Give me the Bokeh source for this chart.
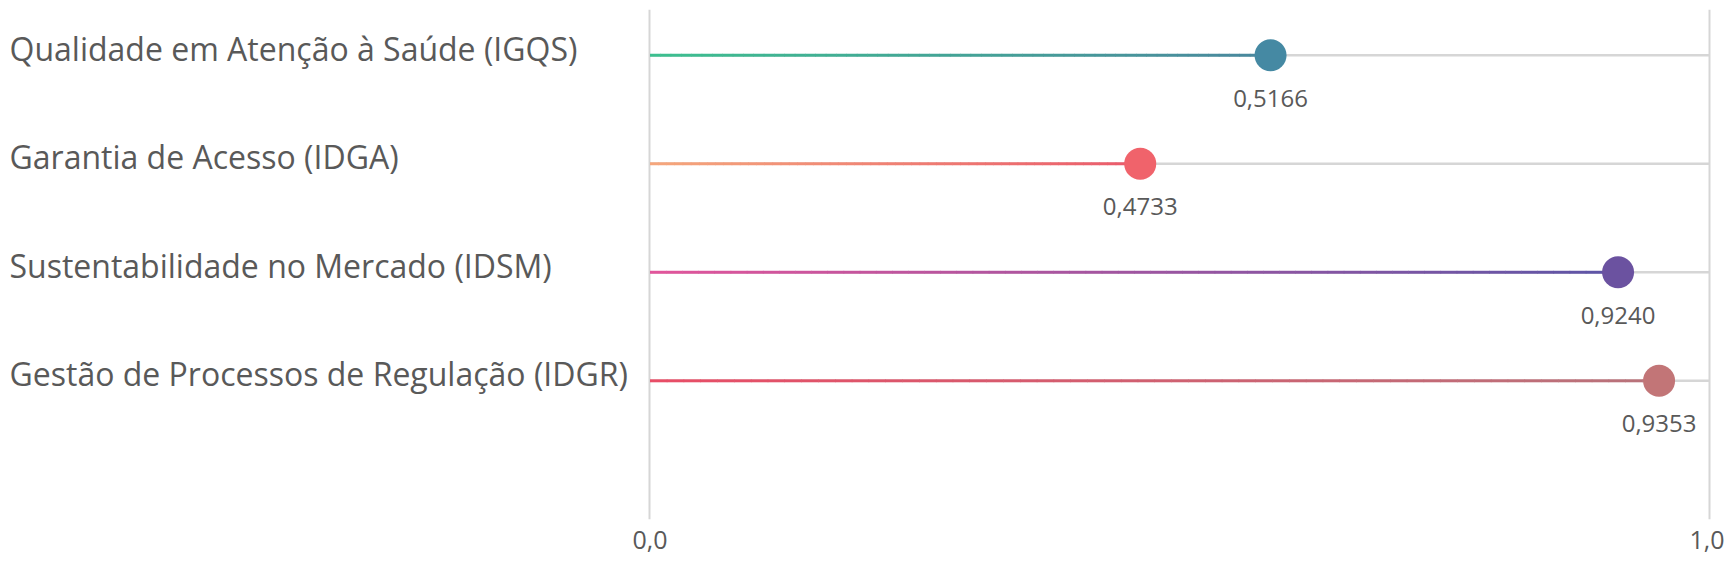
from bokeh.plotting import figure
from bokeh.models import ColumnDataSource, Range1d, FixedTicker
from bokeh.core.properties import value
from bokeh.embed import file_html
from bokeh.resources import INLINE

# ---- data ----
categories = [
    "Qualidade em Atenção à Saúde (IGQS)",
    "Garantia de Acesso (IDGA)",
    "Sustentabilidade no Mercado (IDSM)",
    "Gestão de Processos de Regulação (IDGR)",
]
marker_pos = [0.5857, 0.4627, 0.9137, 0.9524]      # where the dots sit on the 0..1 axis
value_labels = ["0,5166", "0,4733", "0,9240", "0,9353"]
tick_values = [0, 1]
tick_labels = ["0,0", "1,0"]

# styling
grad_start = ["#3dbf8f", "#f5a77c", "#e2559b", "#e84d66"]
grad_end = ["#4a879e", "#ea5a6b", "#5c55a6", "#b8737b"]
dot_colors = ["#4589a3", "#f0636b", "#6b52a0", "#c27577"]
TEXT = "#595959"
GRID = "#d6d6d6"
FONT = "Open Sans"

rows = list(range(len(categories)))

p = figure(frame_width=1716, frame_height=510, output_backend="svg", toolbar_location=None,
           x_range=Range1d(-0.60547, 1.01416), y_range=Range1d(4.278, -0.4211),
           min_border_left=8, min_border_right=0, min_border_top=9, min_border_bottom=44)
p.outline_line_color = None
p.background_fill_color = "white"
p.border_fill_color = "white"
p.yaxis.visible = False
p.ygrid.visible = False

xa = p.xaxis[0]
xa.ticker = FixedTicker(ticks=tick_values)
xa.major_label_overrides = {t: l for t, l in zip(tick_values, tick_labels)}
xa.axis_line_color = None
xa.major_tick_line_color = None
xa.minor_tick_line_color = None
xa.major_tick_out = 0
xa.major_label_standoff = 11
xa.major_label_text_font = FONT
xa.major_label_text_font_size = "25px"
xa.major_label_text_color = TEXT

p.xgrid.ticker = FixedTicker(ticks=tick_values)
p.xgrid.grid_line_color = GRID
p.xgrid.grid_line_width = 2

# gray track from 0 to 1
p.segment(x0=[tick_values[0]] * len(rows), x1=[tick_values[1]] * len(rows), y0=rows, y1=rows,
          line_color=GRID, line_width=2.5)

# gradient stems (styling: stem split into short pieces, colours blended)
def hex2rgb(h):
    h = h.lstrip("#")
    return tuple(int(h[i:i + 2], 16) for i in (0, 2, 4))

N = 60
sx0, sx1, sy, sc = [], [], [], []
for r, v in zip(rows, marker_pos):
    a, b = hex2rgb(grad_start[r]), hex2rgb(grad_end[r])
    for i in range(N):
        t = (i + 0.5) / N
        c = tuple(round(a[k] + (b[k] - a[k]) * t) for k in range(3))
        sx0.append(v * i / N)
        sx1.append(v * (i + 1) / N + (0.0005 if i < N - 1 else 0))
        sy.append(r)
        sc.append("#%02x%02x%02x" % c)
p.segment(x0="x0", x1="x1", y0="y", y1="y", line_color="c", line_width=3, line_cap="butt",
          source=ColumnDataSource(dict(x0=sx0, x1=sx1, y=sy, c=sc)))

src = ColumnDataSource(dict(x=marker_pos, y=rows, c=dot_colors, lab=value_labels,
                            cat=categories, lx=[p.x_range.start] * len(rows)))
p.scatter(x="x", y="y", size=32, fill_color="c", line_color=None, source=src)

p.text(x="x", y="y", text="lab", source=src, text_align="center", text_baseline="alphabetic",
       y_offset=43, text_font=value(FONT), text_font_size="24px", text_color=TEXT)

p.text(x="lx", y="y", text="cat", source=src, text_align="left", text_baseline="alphabetic",
       x_offset=1, y_offset=-7, text_font=value(FONT), text_font_size="32px", text_color=TEXT)

open("out.html", "w").write(file_html(p, INLINE))
